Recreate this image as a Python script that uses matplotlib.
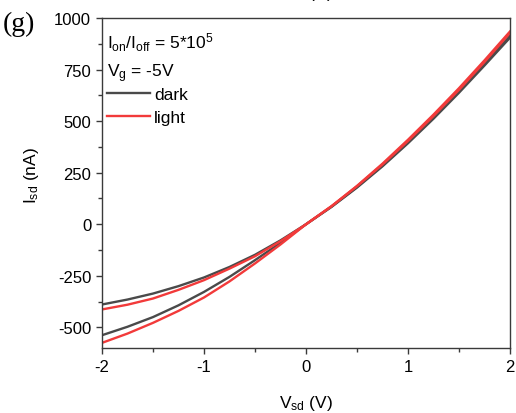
import matplotlib
matplotlib.use("Agg")
import matplotlib.pyplot as plt
from matplotlib.ticker import MultipleLocator

plt.rcParams['font.family'] = ['Liberation Sans', 'DejaVu Sans']
plt.rcParams['mathtext.fontset'] = 'custom'
plt.rcParams['mathtext.rm'] = 'Liberation Sans'
plt.rcParams['mathtext.it'] = 'Liberation Sans'

# I-V hysteresis loops (V in volts, I in nA)
vsd = [-2, -1.75, -1.5, -1.25, -1, -0.75, -0.5, -0.25, 0,
       0.25, 0.5, 0.75, 1, 1.25, 1.5, 1.75, 2]
dark_up = [-389, -365, -336, -300, -258, -207, -148, -78, 0,
           86, 181, 285, 398, 519, 647, 780, 914]
dark_down = [-538, -497, -450, -393, -328, -255, -174, -90, 0,
             84, 178, 281, 393, 512, 638, 770, 905]
light_up = [-413, -390, -360, -318, -271, -215, -155, -82, 0,
            87, 186, 294, 410, 532, 660, 795, 935]
light_down = [-575, -530, -478, -420, -355, -277, -190, -98, 0,
              88, 185, 290, 404, 525, 652, 787, 928]

xticks = [-2, -1, 0, 1, 2]
yticks = [-500, -250, 0, 250, 500, 750, 1000]

dark_col = '#4a4a4a'
red_col = '#f23a3a'

fig = plt.figure(figsize=(5.16, 4.14), dpi=100)
ax = fig.add_axes([0.1977, 0.157, 0.7907, 0.797])

ax.plot(vsd, dark_up, color=dark_col, lw=1.7, label='dark')
ax.plot(vsd, dark_down, color=dark_col, lw=1.7)
ax.plot(vsd, light_up, color=red_col, lw=1.7, label='light')
ax.plot(vsd, light_down, color=red_col, lw=1.7)

ax.set_xlim(-2, 2)
ax.set_ylim(-600, 1000)
ax.set_xticks(xticks)
ax.set_xticklabels([str(v) for v in xticks])
ax.set_yticks(yticks)
ax.set_yticklabels([str(v) for v in yticks])
ax.xaxis.set_minor_locator(MultipleLocator(0.5))
ax.yaxis.set_minor_locator(MultipleLocator(125))

for s in ax.spines.values():
    s.set_color('#3a3a3a')
    s.set_linewidth(1.0)
ax.tick_params(which='major', direction='out', length=4.3, width=1.0,
               color='#3a3a3a', labelsize=12, pad=3.5)
ax.tick_params(which='minor', direction='out', length=2.8, width=1.0,
               color='#3a3a3a')

ax.set_xlabel(r'V$_{\mathregular{sd}}$ (V)', fontsize=12.5)
ax.set_ylabel(r'I$_{\mathregular{sd}}$ (nA)', fontsize=12.5)
ax.xaxis.set_label_coords(0.5, -0.135)
ax.yaxis.set_label_coords(-0.15, 0.527)

ax.text(0.012, 0.962, r'I$_{\mathregular{on}}$/I$_{\mathregular{off}}$ = 5*10$^{\mathregular{5}}$',
        transform=ax.transAxes, fontsize=12.5, va='top', ha='left')
ax.text(0.012, 0.87, r'V$_{\mathregular{g}}$ = -5V',
        transform=ax.transAxes, fontsize=12.5, va='top', ha='left')

ax.legend(loc='center left', bbox_to_anchor=(0.012, 0.734), frameon=False,
          fontsize=12.5, handlelength=2.5, handletextpad=0.2, labelspacing=0.42,
          borderaxespad=0, borderpad=0)

fig.text(0.005, 0.94, '(g)', fontsize=20, family='Liberation Serif',
         ha='left', va='center')
# bottom of the label of the panel above, clipped by the top edge
fig.text(0.593, 1.004, r'V$_{\mathregular{sd}}$ (V)', fontsize=12.5,
         ha='center', va='baseline')

fig.savefig('out.png', dpi=100)
